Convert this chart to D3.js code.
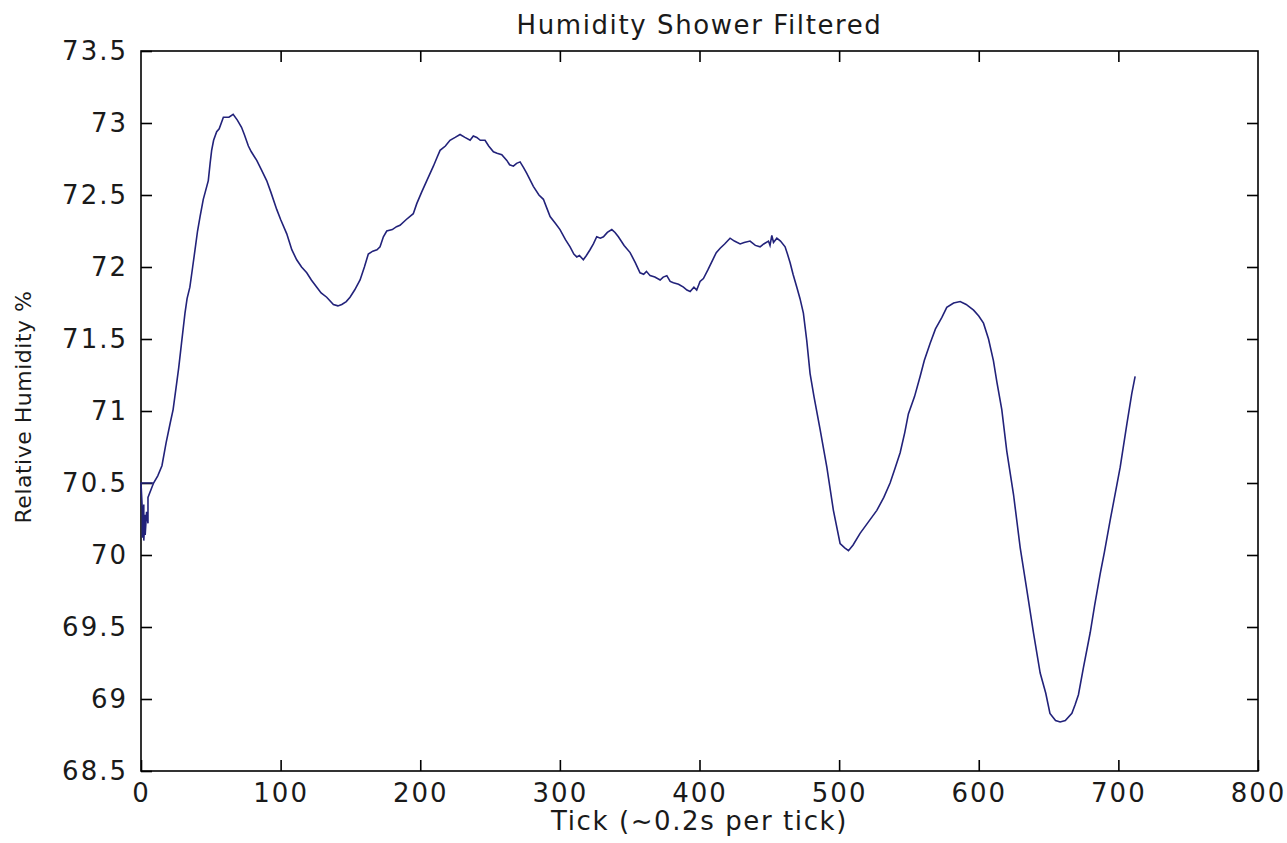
<!DOCTYPE html>
<html>
<head>
<meta charset="utf-8">
<script src="https://cdn.jsdelivr.net/npm/d3@7"></script>
<style>
  html, body { margin: 0; padding: 0; background: #ffffff; }
  svg { display: block; }
  text { font-family: "DejaVu Sans", sans-serif; fill: #1a1a1a; }
</style>
</head>
<body>
<svg id="chart" width="1287" height="843"></svg>
<script>
// ---------- data ----------
const chartTitle = "Humidity Shower Filtered";
const xAxisLabel = "Tick (~0.2s per tick)";
const yAxisLabel = "Relative Humidity %";

const xTickValues = [0, 100, 200, 300, 400, 500, 600, 700, 800];
const yTickValues = [68.5, 69, 69.5, 70, 70.5, 71, 71.5, 72, 72.5, 73, 73.5];

const tickIndex = [
  9, 0, 1, 1, 2, 2, 3, 3, 4, 5, 5, 9,
  12, 15, 18, 21, 23, 25.5, 27, 29, 31.5, 33, 35, 37, 38.7, 40.5, 42.3, 44.6, 46, 48.2, 49.5, 50.6, 52, 54.2, 56, 59, 63, 66, 69, 72, 74, 76.9, 79, 82.9, 86, 90, 93, 97.2, 100, 104.4, 108, 111.5, 115, 118.7, 122, 125.9, 129, 133, 137.8, 141, 143.8, 147, 149.7, 153, 156.9, 160, 162.8, 166, 169, 171.2, 173.6, 176, 180, 183, 185.5, 190, 195, 197.5, 201, 204.7, 209.4, 212, 214.2, 218, 221.3, 225, 228.5, 232, 235.7, 238, 240.5, 243, 246.4, 249, 252.4, 255, 258.4, 262, 264, 266.7, 269, 271.5, 274, 276.3, 281, 285, 288.2, 291, 293, 297, 300.1, 304, 307.3, 310, 312.1, 314, 316.8, 319, 321.6, 324, 326.4, 329, 331.2, 334, 337.2, 339.5, 341.9, 346, 350.3, 354, 357.4, 360, 362, 364.6, 368, 371.8, 374, 376.6, 379, 381.3, 385, 388.5, 391, 393.3, 396, 398, 400.4, 402.8, 406, 410, 412, 414.8, 418, 421.9, 425, 429.1, 432, 436.2, 440, 443.4, 446, 449.4, 450.5, 451.8, 453, 455.4, 458, 461.3, 463, 464.9, 467, 469.7, 472, 474.4, 476.8, 479.2, 482, 486.4, 491.2, 495.9, 500.7, 504, 506.7, 510, 515, 521, 527, 532, 536.5, 540, 543.7, 547, 549.6, 554, 558, 561, 565.2, 569, 573.6, 577.1, 582, 586.7, 591, 596.3, 600, 603.4, 607, 610.5, 613, 616.5, 620.1, 624.9, 629.7, 634.4, 639.2, 644, 648, 651, 655, 658.3, 662, 666.7, 669, 671.4, 675, 679.8, 683, 687, 690, 694.1, 698, 701.3, 706.1, 709.6, 712
];

const humidity = [
  70.5, 70.5, 70.3, 70.12, 70.35, 70.1, 70.28, 70.14, 70.3, 70.22, 70.4, 70.5,
  70.55, 70.62, 70.78, 70.92, 71.01, 71.19, 71.3, 71.47, 71.68, 71.78, 71.86, 72.0, 72.12, 72.25, 72.35, 72.47, 72.52, 72.6, 72.72, 72.81, 72.88, 72.94, 72.96, 73.04, 73.04, 73.06, 73.02, 72.97, 72.92, 72.84, 72.8, 72.74, 72.68, 72.6, 72.52, 72.4, 72.33, 72.23, 72.12, 72.05, 72.0, 71.96, 71.91, 71.86, 71.82, 71.79, 71.74, 71.73, 71.74, 71.76, 71.79, 71.84, 71.91, 72.0, 72.09, 72.11, 72.12, 72.14, 72.21, 72.25, 72.26, 72.28, 72.29, 72.33, 72.37, 72.44, 72.52, 72.6, 72.7, 72.76, 72.81, 72.84, 72.88, 72.9, 72.92, 72.9, 72.88, 72.91, 72.9, 72.88, 72.88, 72.84, 72.8, 72.79, 72.78, 72.74, 72.71, 72.7, 72.72, 72.73, 72.69, 72.65, 72.56, 72.5, 72.47, 72.4, 72.35, 72.3, 72.26, 72.19, 72.14, 72.09, 72.07, 72.08, 72.05, 72.08, 72.12, 72.16, 72.21, 72.2, 72.21, 72.24, 72.26, 72.24, 72.21, 72.15, 72.1, 72.03, 71.96, 71.95, 71.97, 71.94, 71.93, 71.91, 71.93, 71.94, 71.9, 71.89, 71.88, 71.86, 71.84, 71.83, 71.86, 71.84, 71.9, 71.92, 71.98, 72.06, 72.1, 72.13, 72.16, 72.2, 72.18, 72.16, 72.17, 72.18, 72.15, 72.14, 72.16, 72.18, 72.15, 72.22, 72.17, 72.2, 72.18, 72.14, 72.09, 72.03, 71.95, 71.86, 71.78, 71.68, 71.49, 71.26, 71.1, 70.87, 70.61, 70.31, 70.08, 70.05, 70.03, 70.07, 70.15, 70.23, 70.31, 70.4, 70.5, 70.6, 70.71, 70.85, 70.98, 71.1, 71.24, 71.35, 71.47, 71.57, 71.65, 71.72, 71.75, 71.76, 71.74, 71.7, 71.66, 71.61, 71.5, 71.35, 71.2, 71.01, 70.72, 70.42, 70.05, 69.76, 69.46, 69.18, 69.04, 68.9, 68.85, 68.84, 68.85, 68.9, 68.96, 69.03, 69.22, 69.46, 69.65, 69.87, 70.02, 70.24, 70.44, 70.61, 70.91, 71.12, 71.24
];

// ---------- layout ----------
const svg = d3.select("#chart");
const mLeft = 141, mRight = 1258, mTop = 51, mBottom = 771;
const tickLen = 11;

const x = d3.scaleLinear().domain([0, 800]).range([mLeft, mRight]);
const y = d3.scaleLinear().domain([68.5, 73.5]).range([mBottom, mTop]);

const fmt = d => String(d);

// box
svg.append("rect")
  .attr("x", mLeft).attr("y", mTop)
  .attr("width", mRight - mLeft).attr("height", mBottom - mTop)
  .attr("fill", "#fff").attr("stroke", "#000").attr("stroke-width", 1.6);

const axisStyle = g => {
  g.select(".domain").remove();
  g.selectAll(".tick line").attr("stroke", "#000").attr("stroke-width", 1.6);
  g.selectAll(".tick text")
    .style("font-family", "DejaVu Sans, sans-serif")
    .style("font-size", "26px")
    .style("letter-spacing", "2px")
    .attr("fill", "#1a1a1a");
};

svg.append("g").attr("transform", `translate(0,${mBottom})`)
  .call(d3.axisBottom(x).tickValues(xTickValues).tickFormat(fmt).tickSizeInner(-tickLen).tickSizeOuter(0).tickPadding(10))
  .call(axisStyle)
  .call(g => g.selectAll(".tick text").attr("y", 10).attr("dy", "0.8em"));

svg.append("g").attr("transform", `translate(0,${mTop})`)
  .call(d3.axisTop(x).tickValues(xTickValues.slice(1, -1)).tickFormat("").tickSizeInner(-tickLen).tickSizeOuter(0))
  .call(axisStyle);

svg.append("g").attr("transform", `translate(${mLeft},0)`)
  .call(d3.axisLeft(y).tickValues(yTickValues).tickFormat(fmt).tickSizeInner(-tickLen).tickSizeOuter(0).tickPadding(13))
  .call(axisStyle)
  .call(g => g.selectAll(".tick text").attr("x", -13));

svg.append("g").attr("transform", `translate(${mRight},0)`)
  .call(d3.axisRight(y).tickValues(yTickValues.slice(1, -1)).tickFormat("").tickSizeInner(-tickLen).tickSizeOuter(0))
  .call(axisStyle);

// line
const pts = tickIndex.map((t, i) => [t, humidity[i]]);
svg.append("path")
  .datum(pts)
  .attr("fill", "none")
  .attr("stroke", "#22227a")
  .attr("stroke-width", 1.6)
  .attr("stroke-linejoin", "miter")
  .attr("d", d3.line().x(d => x(d[0])).y(d => y(d[1])));

// title & labels
svg.append("text")
  .attr("x", (mLeft + mRight) / 2).attr("y", 34)
  .attr("text-anchor", "middle")
  .style("font-size", "26px").style("letter-spacing", "1.6px")
  .text(chartTitle);

svg.append("text")
  .attr("x", (mLeft + mRight) / 2).attr("y", 830)
  .attr("text-anchor", "middle")
  .style("font-size", "26px").style("letter-spacing", "1.6px")
  .text(xAxisLabel);

svg.append("text")
  .attr("transform", `translate(31,${(mTop + mBottom) / 2 - 4}) rotate(-90)`)
  .attr("text-anchor", "middle")
  .style("font-size", "22px").style("letter-spacing", "0.5px")
  .text(yAxisLabel);
</script>
</body>
</html>
